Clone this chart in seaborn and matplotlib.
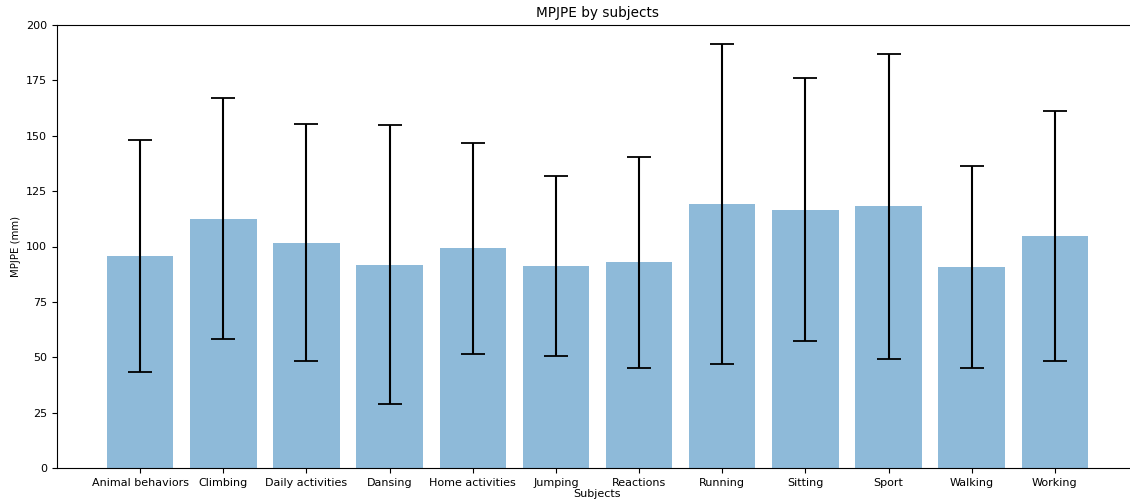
import matplotlib
matplotlib.use("Agg")
import matplotlib.pyplot as plt
import numpy as np
import seaborn as sns

# MPJPE per subject (mean and std, mm)
subjects = ['Animal behaviors', 'Climbing', 'Daily activities', 'Dansing',
            'Home activities', 'Jumping', 'Reactions', 'Running',
            'Sitting', 'Sport', 'Walking', 'Working']
mpjpe_mean = [95.6, 112.6, 101.8, 91.8, 99.2, 91.2, 92.8, 119.0, 116.6, 118.1, 90.7, 104.6]
mpjpe_std = [52.4, 54.5, 53.5, 63.1, 47.6, 40.6, 47.7, 72.2, 59.4, 69.0, 45.5, 56.5]

fig = plt.figure(figsize=(11.3, 5), dpi=100)
# axes slightly wider than the figure: the reference is cropped on the right
ax = fig.add_axes([57 / 1130, 32 / 500, 1081 / 1130, 443 / 500])

sns.barplot(x=subjects, y=mpjpe_mean, color='#1f77b4', alpha=0.5,
            saturation=1, width=0.8, ax=ax)
ax.errorbar(np.arange(len(subjects)), mpjpe_mean, yerr=mpjpe_std, fmt='none',
            ecolor='black', elinewidth=1.5, capsize=8.3, capthick=1.3)

ax.set_xlim(-1, 12)
ax.set_ylim(0, 200)
ax.set_yticks(range(0, 201, 25))
ax.tick_params(labelsize=8)
ax.set_title('MPJPE by subjects', fontsize=9.8)
ax.set_xlabel('Subjects', fontsize=8, labelpad=1)
ax.set_ylabel('MPJPE (mm)', fontsize=7.3)

fig.savefig('out.png', dpi=100)
